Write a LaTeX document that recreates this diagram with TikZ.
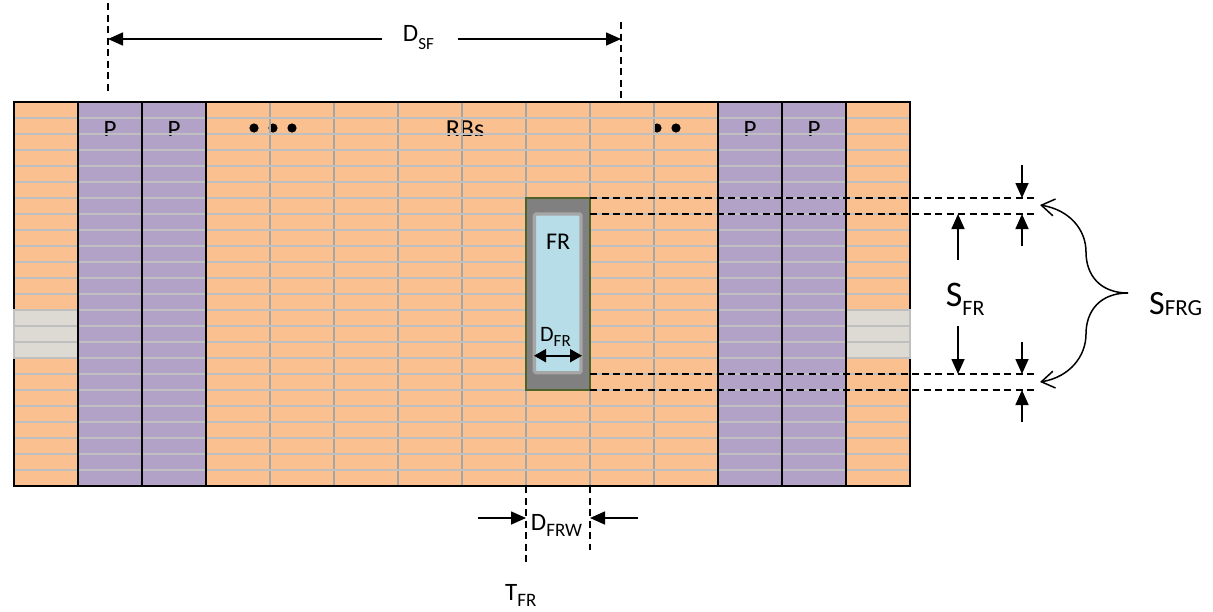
\documentclass[tikz,border=0pt]{standalone}
\usepackage{fontspec}
\setmainfont{Carlito}
\usetikzlibrary{arrows.meta}
\definecolor{rbor}{HTML}{FAC090}
\definecolor{rbpu}{HTML}{B3A2C7}
\definecolor{gline}{HTML}{BFBFBF}
\definecolor{vline}{HTML}{A6A6A6}
\definecolor{gcell}{RGB}{221,217,211}
\definecolor{frblue}{HTML}{B7DEE8}
\definecolor{frdark}{HTML}{808080}
\definecolor{frolive}{HTML}{4F6228}
\definecolor{frin}{HTML}{A6A6A6}
\newcommand{\fs}[1]{\fontsize{#1}{#1}\selectfont}
\newcommand{\lbl}[5]{{\fs{#1}#3}\raisebox{-#5pt}{\fs{#2}#4}}
\begin{document}
\begin{tikzpicture}[x=1pt,y=-1pt,
  dimdash/.style={black,line width=1.8pt,dash pattern=on 7pt off 4.5pt},
  dimarrow/.style={black,line width=1.6pt,-{Triangle[length=15pt,width=13pt]}},
  lab/.style={inner sep=0pt,anchor=base west},
  clab/.style={inner sep=0pt,anchor=base},
  hgrid/.style={gline,line width=2pt},
  vgrid/.style={vline,line width=1.8pt},
  bgrid/.style={black,line width=2.2pt},
  bracearrow/.style={black,line width=1.5pt,-{Straight Barb[length=13pt,width=17pt]}}]
\useasboundingbox (0,0) rectangle (1213,611);
\fill[white] (0,0) rectangle (1213,611);
% background of resource grid
\fill[rbor] (14,102) rectangle (910,486);
\fill[rbpu] (78,102) rectangle (206,486);
\fill[rbpu] (718,102) rectangle (846,486);
\fill[gcell] (14,310) rectangle (78,358);
\fill[gcell] (846,310) rectangle (910,358);
% labels in first rows
\begin{scope}
\clip (14,102) rectangle (910,135);
\node[clab] (p1) at (110,137) {\fs{25}P};
\node[clab] (p2) at (174,137) {\fs{25}P};
\node[clab] (p3) at (750,137) {\fs{25}P};
\node[clab] (p4) at (814,137) {\fs{25}P};
\node[clab] (rbs) at (465,137) {\fs{26}RBs};
\end{scope}
\fill (254,128) circle (4.6pt);
\fill (273,128) circle (4.6pt);
\fill (292,128) circle (4.6pt);
\begin{scope}
\clip (655,110) rectangle (700,145);
\fill (657,128) circle (4.6pt);
\end{scope}
\fill (676,128) circle (4.6pt);
% grid lines
\foreach \x in {270,334,398,462,526,590,654} \draw[vgrid] (\x,102) -- (\x,486);
\foreach \k in {1,...,23} \draw[hgrid] (14,102+16*\k) -- (910,102+16*\k);
\draw[black,line width=2.5pt] (14,102) rectangle (910,486);
\draw[gline,line width=2pt] (14,310) rectangle (78,358);
\draw[gline,line width=2pt] (846,310) rectangle (910,358);
\foreach \x in {78,142,206,718,782,846} \draw[bgrid] (\x,102) -- (\x,486);
% FR region
\coordinate (frtl) at (526,198);
\coordinate (frbr) at (590,390);
\filldraw[fill=frdark,draw=frolive,line width=1.5pt] (frtl) rectangle (frbr);
\filldraw[fill=frblue,draw=frin,line width=3.4pt,rounded corners=1.5pt] (534.4,214) rectangle (581,372.7);
\node[lab] (fr) at (546,249) {\fs{24}FR};
\node[lab] (dfr) at (540,341.7) {\lbl{22}{17}{D}{FR}{5}};
\draw[line width=2pt,{Triangle[length=12pt,width=13pt]}-{Triangle[length=12pt,width=13pt]}] (534,355.7) -- (582,355.7);
% horizontal dashed guides
\coordinate (g1) at (1038,198);
\coordinate (g2) at (1038,214);
\coordinate (g3) at (1038,374);
\coordinate (g4) at (1038,390);
\draw[dimdash] (590,198) -- (g1);
\draw[dimdash] (590,214) -- (g2);
\draw[dimdash] (590,374) -- (g3);
\draw[dimdash] (590,390) -- (g4);
% right arrows
\draw[dimarrow] (1022,165) -- (1022,198);
\draw[dimarrow] (1022,246) -- (1022,214);
\draw[dimarrow] (1022,342) -- (1022,374);
\draw[dimarrow] (1022,422) -- (1022,390);
\draw[dimarrow] (958,260) -- (958,214);
\draw[dimarrow] (958,326) -- (958,374);
\node[lab] (sfr) at (945.7,306.7) {\lbl{36}{22}{S}{FR}{8.3}};
% brace
\coordinate (tip) at (1128,293);
\coordinate (bt) at (1040,205);
\coordinate (bb) at (1040,382);
\draw[bracearrow] (tip) .. controls (1100,293) and (1086,275) .. (1086,252) .. controls (1086,230) and (1070,210) .. (bt);
\draw[bracearrow] (tip) .. controls (1100,293) and (1086,311) .. (1086,334) .. controls (1086,356) and (1070,377) .. (bb);
\node[lab] (sfrg) at (1149,314) {\lbl{34}{23}{S}{FRG}{1.5}};
% top dimension
\draw[dimdash] (108,3) -- (108,95);
\draw[dimdash] (621,22) -- (621,100);
\node[lab] (dsf) at (402.7,41.7) {\lbl{25}{17}{D}{SF}{8}};
\draw[dimarrow] (382,39) -- (108,39);
\draw[dimarrow] (458,39) -- (621,39);
% bottom dimension
\draw[dimdash] (526,486) -- (526,566);
\draw[dimdash] (590,486) -- (590,550);
\draw[dimarrow] (478,518) -- (526,518);
\draw[dimarrow] (638,518) -- (590,518);
\node[lab] (dfrw) at (530.7,530) {\lbl{25}{19}{D}{FRW}{6.7}};
\node[lab] (tfr) at (505,600) {\lbl{25}{19}{T}{FR}{6}};
\end{tikzpicture}
\end{document}
